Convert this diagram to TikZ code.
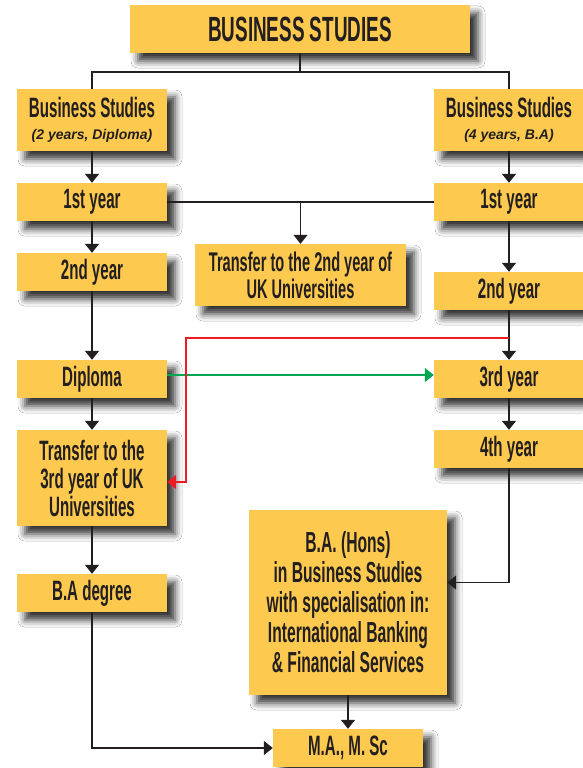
\documentclass[tikz,border=0pt]{standalone}
\usepackage{fontspec}
\setmainfont{Liberation Sans}
\newfontfamily\condf[FakeStretch=0.54]{Liberation Sans}
\newfontfamily\subf{Liberation Sans}
\usetikzlibrary{arrows.meta,shadows.blur}
\definecolor{boxy}{RGB}{253,201,78}
\definecolor{txt}{RGB}{35,31,32}
\definecolor{lin}{RGB}{35,31,32}
\definecolor{redl}{RGB}{237,28,36}
\definecolor{greenl}{RGB}{0,166,81}
\begin{document}
\begin{tikzpicture}[x=1pt,y=-1pt,
  box/.style={fill=boxy, draw=none, inner sep=0pt, align=center, text=txt,
    font=\condf\bfseries\fontsize{28}{28}\selectfont, minimum width=150,
    blur shadow={shadow xshift=8pt, shadow yshift=-8pt, shadow blur radius=7pt, shadow opacity=80}},
  line/.style={line width=1.3pt, draw=lin},
  arr/.style={line, -{Triangle[width=14pt,length=9pt]}},
  redarr/.style={line width=1.5pt, draw=redl, -{Triangle[width=14pt,length=9pt]}},
  greenarr/.style={line width=1.5pt, draw=greenl, -{Triangle[width=14pt,length=9pt]}}
]
\useasboundingbox (0,0) rectangle (582,768);
\fill[white] (0,0) rectangle (582,768);

\node[box, minimum width=340, minimum height=48, font=\condf\bfseries\fontsize{35}{36}\selectfont] (top) at (300,29) {BUSINESS STUDIES};

\node[box, minimum height=62] (bs1) at (92,120) {Business Studies\\[-6pt]{\subf\bfseries\itshape\fontsize{14}{16}\selectfont (2 years, Diploma)}};
\node[box, minimum height=62] (bs2) at (509,120) {Business Studies\\[-6pt]{\subf\bfseries\itshape\fontsize{14}{16}\selectfont (4 years, B.A)}};

\node[box, minimum height=38] (y1L) at (92,202) {1st year};
\node[box, minimum height=38] (y1R) at (509,202) {1st year};
\node[box, minimum width=211, minimum height=62, font=\condf\bfseries\fontsize{27}{27}\selectfont] (tr2) at (300.5,275) {Transfer to the 2nd year of\\UK Universities};
\node[box, minimum height=38] (y2L) at (92,272) {2nd year};
\node[box, minimum height=38] (y2R) at (509,291) {2nd year};
\node[box, minimum height=38] (dipl) at (92,379) {Diploma};
\node[box, minimum height=38] (y3R) at (509,379) {3rd year};
\node[box, minimum height=96] (tr3) at (92,478) {Transfer to the\\3rd year of UK\\Universities};
\node[box, minimum height=38] (y4R) at (509,449) {4th year};
\node[box, minimum width=198, minimum height=185, font=\condf\bfseries\fontsize{29}{30}\selectfont] (hons) at (348,602.5) {B.A. (Hons)\\in Business Studies\\with specialisation in:\\International Banking\\\& Financial Services};
\node[box, minimum height=38] (bad) at (92,593) {B.A degree};
\node[box, minimum height=38] (ma) at (348,748) {M.A., M. Sc};

% top split
\coordinate (tj) at (300,72);
\draw[line] (top.south) -- (tj);
\draw[line] (tj) -| (bs1.north);
\draw[line] (tj) -| (bs2.north);

% left column
\draw[arr] (bs1) -- (y1L);
\draw[arr] (y1L) -- (y2L);
\draw[arr] (y2L) -- (dipl);
\draw[arr] (dipl) -- (tr3);
\draw[arr] (tr3) -- (bad);
\draw[arr] (bad.south) |- (ma.west);

% right column
\draw[arr] (bs2) -- (y1R);
\draw[arr] (y1R) -- (y2R);
\draw[arr] (y2R) -- (y3R);
\draw[arr] (y3R) -- (y4R);
\draw[arr] (y4R.south) |- ([yshift=20pt]hons.east);
\draw[arr] (hons) -- (ma);

% 1st year link
\draw[line] (y1L.east) -- (y1R.west);
\draw[arr] (y1L.east -| tr2.north) -- (tr2.north);

% green and red
\draw[greenarr] ([yshift=4pt]dipl.east) -- ([yshift=4pt]y3R.west);
\coordinate (rs) at (509,338);
\coordinate (rc) at (186,482);
\draw[redarr] (rs) -| (rc) -- (rc -| tr3.east);
\end{tikzpicture}
\end{document}
